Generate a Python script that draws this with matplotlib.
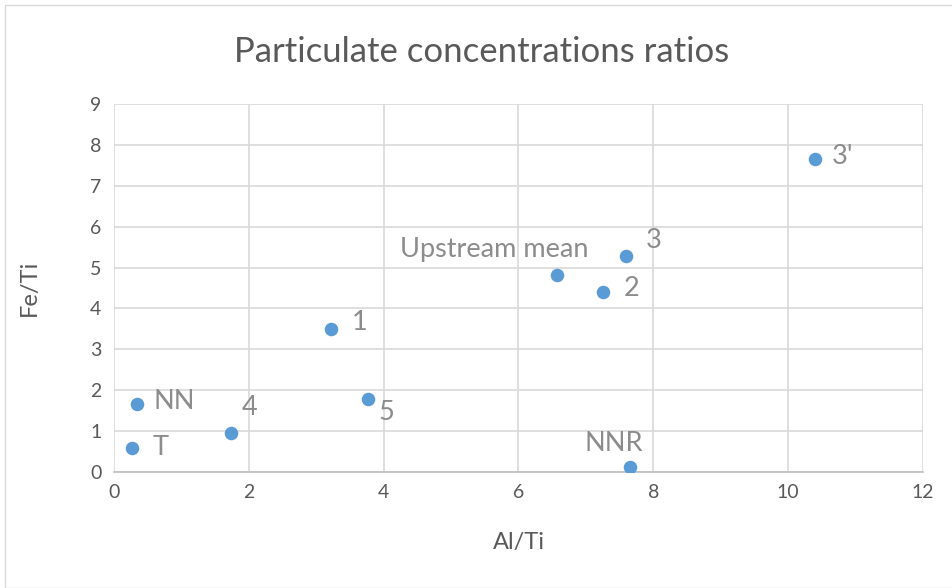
import matplotlib.pyplot as plt
from matplotlib.patches import Rectangle

plt.rcParams['font.family'] = ['Lato', 'DejaVu Sans']

# data
labels = ['T', 'NN', '4', '1', '5', 'Upstream mean', '2', '3', 'NNR', "3'"]
al_ti = [0.27, 0.34, 1.74, 3.22, 3.77, 6.57, 7.25, 7.59, 7.65, 10.40]
fe_ti = [0.59, 1.66, 0.95, 3.50, 1.79, 4.82, 4.40, 5.28, 0.12, 7.65]

# label offsets in pixels (dx, dy), ha
label_pos = {
    'T': (20, 0, 'left'),
    'NN': (17, 3, 'left'),
    '4': (10, 26, 'left'),
    '1': (21, 6, 'left'),
    '5': (10, -14, 'left'),
    'Upstream mean': (-63, 25, 'center'),
    '2': (21, 4, 'left'),
    '3': (20, 16, 'left'),
    'NNR': (-16, 24, 'center'),
    "3'": (17, 3, 'left'),
}

grey = '#595959'
label_grey = '#8c8c8c'
blue = '#5b9bd5'

fig = plt.figure(figsize=(9.53, 5.88), dpi=100)
fig.patches.append(Rectangle((0.005, 0.0), 0.995, 0.992, transform=fig.transFigure,
                             fill=False, edgecolor='#d9d9d9', linewidth=1))
ax = fig.add_axes([0.1196, 0.1973, 0.8489, 0.6258])

ax.scatter(al_ti, fe_ti, s=95, color=blue, zorder=3, linewidths=0)

for lab, x, y in zip(labels, al_ti, fe_ti):
    dx, dy, ha = label_pos[lab]
    ax.annotate(lab, (x, y), xytext=(dx * 0.72, dy * 0.72), textcoords='offset points',
                ha=ha, va='center', fontsize=19.5, color=label_grey, zorder=4)

ax.set_xlim(0, 12)
ax.set_ylim(0, 9)
ax.set_xticks(range(0, 13, 2))
ax.set_yticks(range(0, 10))
ax.grid(True, color='#d9d9d9', linewidth=1.2)
ax.set_axisbelow(True)
for side in ['top', 'right', 'left']:
    ax.spines[side].set_visible(False)
ax.spines['bottom'].set_color('#bfbfbf')
ax.spines['bottom'].set_linewidth(1.2)
ax.tick_params(length=0, labelsize=14, colors=grey, pad=9)

ax.set_xlabel('Al/Ti', fontsize=17, color=grey, labelpad=22)
ax.set_ylabel('Fe/Ti', fontsize=17, color=grey, labelpad=36)
fig.text(0.5 + 0.005, 0.912, 'Particulate concentrations ratios', ha='center', va='center',
         fontsize=25, color=grey)

fig.savefig('out.png', dpi=100)
plt.close()
